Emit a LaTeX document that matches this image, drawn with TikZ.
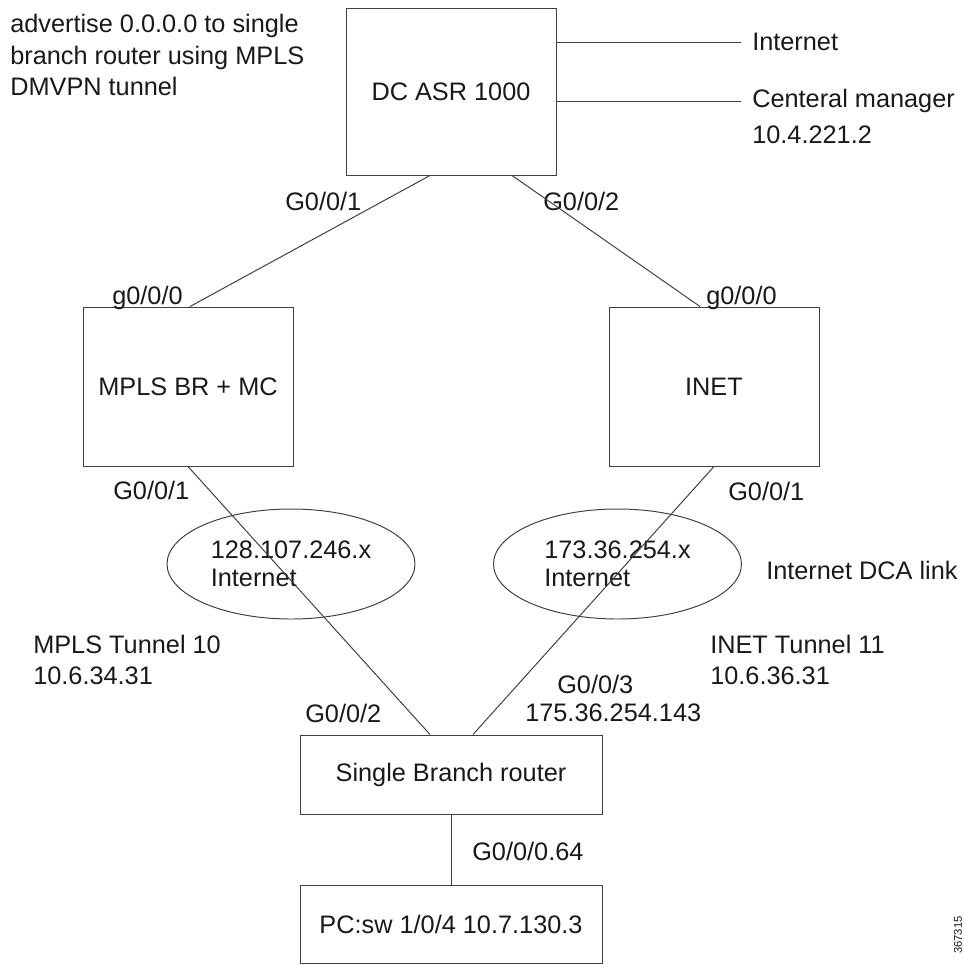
\documentclass[tikz,border=0pt]{standalone}
\usepackage{fontspec}
\setmainfont{Liberation Sans}
\usetikzlibrary{shapes.geometric,positioning}
\begin{document}
\begin{tikzpicture}[
    box/.style={shape=rectangle, draw=black!75, line width=0.7pt, text=black!90, font=\fontsize{18}{22.5}\selectfont},
    cloud/.style={shape=ellipse, draw=black!75, line width=0.7pt, inner sep=0pt, minimum width=6.2cm, minimum height=2.75cm, align=left, text=black!90, font=\fontsize{18}{20}\selectfont},
    note/.style={inner sep=0pt, align=left, text=black!90, font=\fontsize{18}{22.5}\selectfont},
    link/.style={draw=black!75, line width=0.7pt}
  ]
    \useasboundingbox (0,0) rectangle (24.1,-24.125);

    \node[box, minimum width=5.25cm, minimum height=4.175cm] (DC) at (11.275,-2.2875) {DC ASR 1000};
    \node[box, minimum width=5.25cm, minimum height=3.975cm] (MPLS) at (4.7,-9.6625) {MPLS BR + MC};
    \node[box, minimum width=5.25cm, minimum height=3.975cm] (INET) at (17.85,-9.6625) {INET};
    \node[box, minimum width=7.55cm, minimum height=1.975cm] (Branch) at (11.275,-19.3625) {Single Branch router};
    \node[box, minimum width=7.55cm, minimum height=1.95cm] (PC) at (11.275,-23.1125) {PC:sw 1/0/4 10.7.130.3};

    \node[cloud] (CloudL) at (7.275,-14.1) {128.107.246.x\\Internet};
    \node[cloud] (CloudR) at (15.4375,-14.1) {173.36.254.x\\Internet};

    \node[note, anchor=north west] (Advert) at (0.25,-0.35) {advertise 0.0.0.0 to single\\branch router using MPLS\\DMVPN tunnel};
    \node[note, anchor=west, inner xsep=0.275cm] (Inet) at (18.525,-1.05) {Internet};
    \node[note, anchor=west, inner xsep=0.275cm] (CM) at (18.525,-2.525) {Centeral manager};
    \node[note, anchor=west] (CMip) at (18.8,-3.375) {10.4.221.2};

    \node[note, anchor=west] (DCg1) at (7.125,-5.025) {G0/0/1};
    \node[note, anchor=west] (DCg2) at (13.575,-5.025) {G0/0/2};
    \node[note, anchor=west] (MPLSg0) at (2.8,-7.45) {g0/0/0};
    \node[note, anchor=west] (INETg0) at (17.65,-7.45) {g0/0/0};
    \node[note, anchor=west] (MPLSg1) at (2.825,-12.25) {G0/0/1};
    \node[note, anchor=west] (INETg1) at (18.2,-12.275) {G0/0/1};
    \node[note, anchor=west] (DCA) at (19.15,-14.25) {Internet DCA link};
    \node[note, anchor=west] (TunL) at (0.825,-16.5) {MPLS Tunnel 10\\10.6.34.31};
    \node[note, anchor=west] (TunR) at (17.75,-16.5) {INET Tunnel 11\\10.6.36.31};
    \node[note, anchor=west] (Brg3) at (13.925,-17.1) {G0/0/3};
    \node[note, anchor=west] (Brip) at (13.125,-17.825) {175.36.254.143};
    \node[note, anchor=west] (Brg2) at (7.625,-17.825) {G0/0/2};
    \node[note, anchor=west] (PCg) at (11.8,-21.275) {G0/0/0.64};
    \node[note, rotate=90, font=\fontsize{8}{9}\selectfont] (FigId) at (23.95,-23.375) {367315};

    \draw[link] (DC.east |- Inet.west) -- (Inet.west);
    \draw[link] (DC.east |- CM.west) -- (CM.west);
    \draw[link] ([xshift=-0.525cm]DC.south) -- ([xshift=0.05cm]MPLS.north);
    \draw[link] ([xshift=1.525cm]DC.south) -- ([xshift=-0.35cm]INET.north);
    \draw[link] (MPLS.south) -- ([xshift=-0.525cm]Branch.north);
    \draw[link] (INET.south) -- ([xshift=0.55cm]Branch.north);
    \draw[link] (Branch.south) -- (PC.north);
  \end{tikzpicture}
\end{document}
